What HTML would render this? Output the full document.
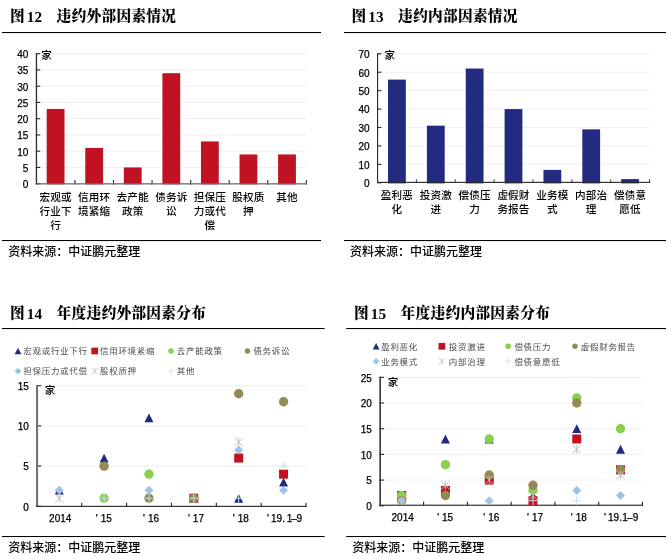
<!DOCTYPE html>
<html lang="zh-CN"><head><meta charset="utf-8"><title>违约因素</title>
<style>
html,body{margin:0;padding:0;background:#fff;}
body{width:669px;height:559px;overflow:hidden;}
svg{display:block}
.tt{font-family:"Liberation Serif","Noto Serif CJK SC",serif;font-weight:900;font-size:14.67px;fill:#000;letter-spacing:0.3px}
.tn{font-weight:bold;letter-spacing:0.25px;font-size:15.2px}
.num{font-family:"Liberation Sans","Noto Sans CJK SC",sans-serif;font-size:10px;fill:#000;stroke:#000;stroke-width:0.25px}
.cat{font-family:"Liberation Sans","Noto Sans CJK SC",sans-serif;font-size:10.6px;fill:#000;font-weight:500;letter-spacing:0.15px}
.src{font-family:"Liberation Sans","Noto Sans CJK SC",sans-serif;font-size:12px;fill:#000;font-weight:500}
.lg{font-family:"Liberation Sans","Noto Sans CJK SC",sans-serif;font-size:8.5px;fill:#4a4a4a;letter-spacing:0.7px}
</style></head><body>
<svg width="669" height="559" viewBox="0 0 669 559">
<rect width="669" height="559" fill="#fff"/>
<text class="tt" x="10.0" y="20.7">图<tspan class="tn" x="26.7" y="21.7">12</tspan><tspan x="56.6" y="20.7">违约外部因素情况</tspan></text>
<rect x="2" y="32" width="319" height="1.05" fill="#000"/>
<rect x="40.80" y="166.95" width="265.50" height="1" fill="#f0f0f0"/>
<rect x="40.80" y="150.70" width="265.50" height="1" fill="#f0f0f0"/>
<rect x="40.80" y="134.45" width="265.50" height="1" fill="#f0f0f0"/>
<rect x="40.80" y="118.20" width="265.50" height="1" fill="#f0f0f0"/>
<rect x="40.80" y="101.95" width="265.50" height="1" fill="#f0f0f0"/>
<rect x="40.80" y="85.70" width="265.50" height="1" fill="#f0f0f0"/>
<rect x="40.80" y="69.45" width="265.50" height="1" fill="#f0f0f0"/>
<rect x="40.80" y="53.20" width="265.50" height="1" fill="#f0f0f0"/>
<rect x="46.69" y="108.95" width="17.8" height="75.35" fill="#c11224"/>
<rect x="85.26" y="147.95" width="17.8" height="36.35" fill="#c11224"/>
<rect x="123.83" y="167.45" width="17.8" height="16.85" fill="#c11224"/>
<rect x="162.40" y="73.20" width="17.8" height="111.10" fill="#c11224"/>
<rect x="200.97" y="141.45" width="17.8" height="42.85" fill="#c11224"/>
<rect x="239.54" y="154.45" width="17.8" height="29.85" fill="#c11224"/>
<rect x="278.11" y="154.45" width="17.8" height="29.85" fill="#c11224"/>
<rect x="35.80" y="183.15" width="4.50" height="1.1" fill="#2a2a2a"/>
<text class="num" text-anchor="end" x="28.299999999999997" y="188.00">0</text>
<rect x="35.80" y="166.90" width="4.50" height="1.1" fill="#2a2a2a"/>
<text class="num" text-anchor="end" x="28.299999999999997" y="171.75">5</text>
<rect x="35.80" y="150.65" width="4.50" height="1.1" fill="#2a2a2a"/>
<text class="num" text-anchor="end" x="28.299999999999997" y="155.50">10</text>
<rect x="35.80" y="134.40" width="4.50" height="1.1" fill="#2a2a2a"/>
<text class="num" text-anchor="end" x="28.299999999999997" y="139.25">15</text>
<rect x="35.80" y="118.15" width="4.50" height="1.1" fill="#2a2a2a"/>
<text class="num" text-anchor="end" x="28.299999999999997" y="123.00">20</text>
<rect x="35.80" y="101.90" width="4.50" height="1.1" fill="#2a2a2a"/>
<text class="num" text-anchor="end" x="28.299999999999997" y="106.75">25</text>
<rect x="35.80" y="85.65" width="4.50" height="1.1" fill="#2a2a2a"/>
<text class="num" text-anchor="end" x="28.299999999999997" y="90.50">30</text>
<rect x="35.80" y="69.40" width="4.50" height="1.1" fill="#2a2a2a"/>
<text class="num" text-anchor="end" x="28.299999999999997" y="74.25">35</text>
<rect x="35.80" y="53.15" width="4.50" height="1.1" fill="#2a2a2a"/>
<text class="num" text-anchor="end" x="28.299999999999997" y="58.00">40</text>
<rect x="74.37" y="180.00" width="1.1" height="4.60" fill="#2a2a2a"/>
<rect x="112.94" y="180.00" width="1.1" height="4.60" fill="#2a2a2a"/>
<rect x="151.51" y="180.00" width="1.1" height="4.60" fill="#2a2a2a"/>
<rect x="190.09" y="180.00" width="1.1" height="4.60" fill="#2a2a2a"/>
<rect x="228.66" y="180.00" width="1.1" height="4.60" fill="#2a2a2a"/>
<rect x="267.23" y="180.00" width="1.1" height="4.60" fill="#2a2a2a"/>
<rect x="305.80" y="180.00" width="1.1" height="4.60" fill="#2a2a2a"/>
<rect x="35.80" y="53.20" width="1.3" height="131.40" fill="#2a2a2a"/>
<rect x="35.80" y="183.00" width="271.10" height="1.6" fill="#6a6a6a" fill-opacity="0.8"/>
<text class="cat" x="41.3" y="58.800000000000004">家</text>
<text class="cat" text-anchor="middle" x="55.59" y="201.2">宏观或</text>
<text class="cat" text-anchor="middle" x="55.59" y="215.2">行业下</text>
<text class="cat" text-anchor="middle" x="55.59" y="229.2">行</text>
<text class="cat" text-anchor="middle" x="94.16" y="201.2">信用环</text>
<text class="cat" text-anchor="middle" x="94.16" y="215.2">境紧缩</text>
<text class="cat" text-anchor="middle" x="132.73" y="201.2">去产能</text>
<text class="cat" text-anchor="middle" x="132.73" y="215.2">政策</text>
<text class="cat" text-anchor="middle" x="171.30" y="201.2">债务诉</text>
<text class="cat" text-anchor="middle" x="171.30" y="215.2">讼</text>
<text class="cat" text-anchor="middle" x="209.87" y="201.2">担保压</text>
<text class="cat" text-anchor="middle" x="209.87" y="215.2">力或代</text>
<text class="cat" text-anchor="middle" x="209.87" y="229.2">偿</text>
<text class="cat" text-anchor="middle" x="248.44" y="201.2">股权质</text>
<text class="cat" text-anchor="middle" x="248.44" y="215.2">押</text>
<text class="cat" text-anchor="middle" x="287.01" y="201.2">其他</text>
<rect x="2" y="240" width="319" height="1.05" fill="#000"/>
<text class="src" x="8.3" y="255.5">资料来源：中证鹏元整理</text>
<text class="tt" x="351.5" y="20.7">图<tspan class="tn" x="368.2" y="21.7">13</tspan><tspan x="398.1" y="20.7">违约内部因素情况</tspan></text>
<rect x="344" y="32" width="322" height="1.05" fill="#000"/>
<rect x="382.00" y="163.87" width="267.50" height="1" fill="#f0f0f0"/>
<rect x="382.00" y="145.44" width="267.50" height="1" fill="#f0f0f0"/>
<rect x="382.00" y="127.01" width="267.50" height="1" fill="#f0f0f0"/>
<rect x="382.00" y="108.59" width="267.50" height="1" fill="#f0f0f0"/>
<rect x="382.00" y="90.16" width="267.50" height="1" fill="#f0f0f0"/>
<rect x="382.00" y="71.73" width="267.50" height="1" fill="#f0f0f0"/>
<rect x="382.00" y="53.30" width="267.50" height="1" fill="#f0f0f0"/>
<rect x="388.03" y="79.60" width="17.8" height="103.80" fill="#232b80"/>
<rect x="426.89" y="125.67" width="17.8" height="57.73" fill="#232b80"/>
<rect x="465.74" y="68.54" width="17.8" height="114.86" fill="#232b80"/>
<rect x="504.60" y="109.09" width="17.8" height="74.31" fill="#232b80"/>
<rect x="543.46" y="169.90" width="17.8" height="13.50" fill="#232b80"/>
<rect x="582.31" y="129.36" width="17.8" height="54.04" fill="#232b80"/>
<rect x="621.17" y="179.11" width="17.8" height="4.29" fill="#232b80"/>
<rect x="377.00" y="182.25" width="4.35" height="1.1" fill="#2a2a2a"/>
<text class="num" text-anchor="end" x="369.5" y="187.10">0</text>
<rect x="377.00" y="163.82" width="4.35" height="1.1" fill="#2a2a2a"/>
<text class="num" text-anchor="end" x="369.5" y="168.67">10</text>
<rect x="377.00" y="145.39" width="4.35" height="1.1" fill="#2a2a2a"/>
<text class="num" text-anchor="end" x="369.5" y="150.24">20</text>
<rect x="377.00" y="126.96" width="4.35" height="1.1" fill="#2a2a2a"/>
<text class="num" text-anchor="end" x="369.5" y="131.81">30</text>
<rect x="377.00" y="108.54" width="4.35" height="1.1" fill="#2a2a2a"/>
<text class="num" text-anchor="end" x="369.5" y="113.39">40</text>
<rect x="377.00" y="90.11" width="4.35" height="1.1" fill="#2a2a2a"/>
<text class="num" text-anchor="end" x="369.5" y="94.96">50</text>
<rect x="377.00" y="71.68" width="4.35" height="1.1" fill="#2a2a2a"/>
<text class="num" text-anchor="end" x="369.5" y="76.53">60</text>
<rect x="377.00" y="53.25" width="4.35" height="1.1" fill="#2a2a2a"/>
<text class="num" text-anchor="end" x="369.5" y="58.10">70</text>
<rect x="415.86" y="179.30" width="1.1" height="3.65" fill="#555"/>
<rect x="454.71" y="179.30" width="1.1" height="3.65" fill="#555"/>
<rect x="493.57" y="179.30" width="1.1" height="3.65" fill="#555"/>
<rect x="532.43" y="179.30" width="1.1" height="3.65" fill="#555"/>
<rect x="571.29" y="179.30" width="1.1" height="3.65" fill="#555"/>
<rect x="610.14" y="179.30" width="1.1" height="3.65" fill="#555"/>
<rect x="649.00" y="179.30" width="1.1" height="3.65" fill="#555"/>
<rect x="377.00" y="53.30" width="1.15" height="129.65" fill="#2a2a2a"/>
<rect x="377.00" y="181.80" width="273.10" height="1.15" fill="#2a2a2a" fill-opacity="1"/>
<text class="cat" x="384.5" y="58.9">家</text>
<text class="cat" text-anchor="middle" x="396.93" y="199.2">盈利恶</text>
<text class="cat" text-anchor="middle" x="396.93" y="213.2">化</text>
<text class="cat" text-anchor="middle" x="435.79" y="199.2">投资激</text>
<text class="cat" text-anchor="middle" x="435.79" y="213.2">进</text>
<text class="cat" text-anchor="middle" x="474.64" y="199.2">偿债压</text>
<text class="cat" text-anchor="middle" x="474.64" y="213.2">力</text>
<text class="cat" text-anchor="middle" x="513.50" y="199.2">虚假财</text>
<text class="cat" text-anchor="middle" x="513.50" y="213.2">务报告</text>
<text class="cat" text-anchor="middle" x="552.36" y="199.2">业务模</text>
<text class="cat" text-anchor="middle" x="552.36" y="213.2">式</text>
<text class="cat" text-anchor="middle" x="591.21" y="199.2">内部治</text>
<text class="cat" text-anchor="middle" x="591.21" y="213.2">理</text>
<text class="cat" text-anchor="middle" x="630.07" y="199.2">偿债意</text>
<text class="cat" text-anchor="middle" x="630.07" y="213.2">愿低</text>
<rect x="344" y="240" width="322" height="1.05" fill="#000"/>
<text class="src" x="350" y="255.5">资料来源：中证鹏元整理</text>
<text class="tt" x="10.0" y="317.7">图<tspan class="tn" x="26.7" y="318.7">14</tspan><tspan x="56.6" y="317.7">年度违约外部因素分布</tspan></text>
<rect x="2" y="328" width="322.6" height="1.05" fill="#000"/>
<path d="M14.62 354.30L18.00 347.70L21.38 354.30Z" fill="#1f2a80"/>
<text class="lg" x="23.3" y="354.2">宏观或行业下行</text>
<rect x="91.33" y="347.62" width="6.75" height="6.75" fill="#c1121f"/>
<text class="lg" x="100" y="354.2">信用环境紧缩</text>
<circle cx="171.00" cy="351.00" r="2.73" fill="#8ccf4d"/>
<text class="lg" x="176.8" y="354.2">去产能政策</text>
<circle cx="247.50" cy="351.00" r="2.73" fill="#948a54"/>
<text class="lg" x="253.4" y="354.2">债务诉讼</text>
<path d="M14.62 371.20L18.00 367.82L21.38 371.20L18.00 374.57Z" fill="#9dc3e6"/>
<text class="lg" x="23.3" y="374.4">担保压力或代偿</text>
<path d="M91.48 367.97L97.92 374.43M91.48 374.43L97.92 367.97M94.70 367.97L94.70 374.43" stroke="#bfbfbf" stroke-width="0.75" fill="none"/>
<text class="lg" x="100" y="374.4">股权质押</text>
<path d="M167.78 371.20L174.22 371.20M171.00 367.97L171.00 374.43" stroke="#c9dcf2" stroke-width="0.75" fill="none"/>
<text class="lg" x="176.8" y="374.4">其他</text>
<rect x="41.30" y="465.60" width="264.70" height="1" fill="#f0f0f0"/>
<rect x="41.30" y="425.40" width="264.70" height="1" fill="#f0f0f0"/>
<rect x="41.30" y="385.20" width="264.70" height="1" fill="#f0f0f0"/>
<rect x="36.00" y="505.75" width="5.30" height="1.1" fill="#2a2a2a"/>
<text class="num" text-anchor="end" x="28.799999999999997" y="510.60">0</text>
<rect x="36.00" y="465.55" width="5.30" height="1.1" fill="#2a2a2a"/>
<text class="num" text-anchor="end" x="28.799999999999997" y="470.40">5</text>
<rect x="36.00" y="425.35" width="5.30" height="1.1" fill="#2a2a2a"/>
<text class="num" text-anchor="end" x="28.799999999999997" y="430.20">10</text>
<rect x="36.00" y="385.15" width="5.30" height="1.1" fill="#2a2a2a"/>
<text class="num" text-anchor="end" x="28.799999999999997" y="390.00">15</text>
<rect x="81.17" y="502.80" width="1.1" height="4.15" fill="#2a2a2a"/>
<rect x="126.03" y="502.80" width="1.1" height="4.15" fill="#2a2a2a"/>
<rect x="170.90" y="502.80" width="1.1" height="4.15" fill="#2a2a2a"/>
<rect x="215.77" y="502.80" width="1.1" height="4.15" fill="#2a2a2a"/>
<rect x="260.63" y="502.80" width="1.1" height="4.15" fill="#2a2a2a"/>
<rect x="305.50" y="502.80" width="1.1" height="4.15" fill="#2a2a2a"/>
<rect x="36.00" y="385.20" width="2.1" height="121.75" fill="#737373"/>
<rect x="36.00" y="505.80" width="270.60" height="1.15" fill="#2a2a2a" fill-opacity="1"/>
<text class="cat" x="44.8" y="394.2">家</text>
<path d="M54.73 494.62L59.23 485.82L63.73 494.62Z" fill="#1f2a80"/>
<path d="M99.60 462.46L104.10 453.66L108.60 462.46Z" fill="#1f2a80"/>
<path d="M144.47 422.26L148.97 413.46L153.47 422.26Z" fill="#1f2a80"/>
<path d="M234.20 502.66L238.70 493.86L243.20 502.66Z" fill="#1f2a80"/>
<path d="M279.07 486.58L283.57 477.78L288.07 486.58Z" fill="#1f2a80"/>
<rect x="189.33" y="493.76" width="9.00" height="9.00" fill="#c1121f"/>
<rect x="234.20" y="453.56" width="9.00" height="9.00" fill="#c1121f"/>
<rect x="279.07" y="469.64" width="9.00" height="9.00" fill="#c1121f"/>
<circle cx="104.10" cy="498.26" r="4.70" fill="#8ccf4d"/>
<circle cx="148.97" cy="474.14" r="4.70" fill="#8ccf4d"/>
<circle cx="104.10" cy="466.10" r="4.70" fill="#948a54"/>
<circle cx="148.97" cy="498.26" r="4.70" fill="#948a54"/>
<circle cx="193.83" cy="498.26" r="4.70" fill="#948a54"/>
<circle cx="238.70" cy="393.74" r="4.70" fill="#948a54"/>
<circle cx="283.57" cy="401.78" r="4.70" fill="#948a54"/>
<path d="M54.73 490.22L59.23 485.72L63.73 490.22L59.23 494.72Z" fill="#9dc3e6"/>
<path d="M144.47 490.22L148.97 485.72L153.47 490.22L148.97 494.72Z" fill="#9dc3e6"/>
<path d="M234.20 450.02L238.70 445.52L243.20 450.02L238.70 454.52Z" fill="#9dc3e6"/>
<path d="M279.07 490.22L283.57 485.72L288.07 490.22L283.57 494.72Z" fill="#9dc3e6"/>
<path d="M54.93 493.96L63.53 502.56M54.93 502.56L63.53 493.96M59.23 493.96L59.23 502.56" stroke="#bfbfbf" stroke-width="1.00" fill="none"/>
<path d="M234.40 437.68L243.00 446.28M234.40 446.28L243.00 437.68M238.70 437.68L238.70 446.28" stroke="#bfbfbf" stroke-width="1.00" fill="none"/>
<path d="M99.80 498.26L108.40 498.26M104.10 493.96L104.10 502.56" stroke="#c9dcf2" stroke-width="1.00" fill="none"/>
<path d="M144.67 498.26L153.27 498.26M148.97 493.96L148.97 502.56" stroke="#c9dcf2" stroke-width="1.00" fill="none"/>
<path d="M189.53 498.26L198.13 498.26M193.83 493.96L193.83 502.56" stroke="#c9dcf2" stroke-width="1.00" fill="none"/>
<path d="M234.40 498.26L243.00 498.26M238.70 493.96L238.70 502.56" stroke="#c9dcf2" stroke-width="1.00" fill="none"/>
<path d="M279.27 466.10L287.87 466.10M283.57 461.80L283.57 470.40" stroke="#c9dcf2" stroke-width="1.00" fill="none"/>
<text class="num" text-anchor="middle" x="60.23" y="522.3">2014</text>
<text class="num" x="95.80" y="522.3"><tspan>'</tspan><tspan dx="3">15</tspan></text>
<text class="num" x="143.07" y="522.3"><tspan>'</tspan><tspan dx="3">16</tspan></text>
<text class="num" x="187.93" y="522.3"><tspan>'</tspan><tspan dx="3">17</tspan></text>
<text class="num" x="232.80" y="522.3"><tspan>'</tspan><tspan dx="3">18</tspan></text>
<text class="num" x="266.97" y="522.3"><tspan>'</tspan><tspan x="271.07">19.</tspan><tspan x="286.77">1</tspan><tspan x="291.27">–</tspan><tspan x="296.57">9</tspan></text>
<rect x="2" y="536" width="322.6" height="1.05" fill="#000"/>
<text class="src" x="8.2" y="551.5">资料来源：中证鹏元整理</text>
<text class="tt" x="354.0" y="317.7">图<tspan class="tn" x="370.7" y="318.7">15</tspan><tspan x="400.6" y="317.7">年度违约内部因素分布</tspan></text>
<rect x="346.2" y="328" width="319.8" height="1.05" fill="#000"/>
<path d="M372.73 349.60L376.10 343.00L379.48 349.60Z" fill="#1f2a80"/>
<text class="lg" x="381.2" y="349.5">盈利恶化</text>
<rect x="438.52" y="342.93" width="6.75" height="6.75" fill="#c1121f"/>
<text class="lg" x="448.8" y="349.5">投资激进</text>
<circle cx="508.20" cy="346.30" r="2.73" fill="#8ccf4d"/>
<text class="lg" x="514.4" y="349.5">偿债压力</text>
<circle cx="575.00" cy="346.30" r="2.73" fill="#948a54"/>
<text class="lg" x="580.8" y="349.5">虚假财务报告</text>
<path d="M372.73 361.30L376.10 357.93L379.48 361.30L376.10 364.68Z" fill="#9dc3e6"/>
<text class="lg" x="381.2" y="364.5">业务模式</text>
<path d="M438.67 358.07L445.12 364.53M438.67 364.53L445.12 358.07M441.90 358.07L441.90 364.53" stroke="#bfbfbf" stroke-width="0.75" fill="none"/>
<text class="lg" x="448.8" y="364.5">内部治理</text>
<path d="M504.97 361.30L511.43 361.30M508.20 358.07L508.20 364.53" stroke="#c9dcf2" stroke-width="0.75" fill="none"/>
<text class="lg" x="514.4" y="364.5">偿债意愿低</text>
<rect x="384.30" y="479.60" width="258.10" height="1" fill="#f0f0f0"/>
<rect x="384.30" y="453.90" width="258.10" height="1" fill="#f0f0f0"/>
<rect x="384.30" y="428.20" width="258.10" height="1" fill="#f0f0f0"/>
<rect x="384.30" y="402.50" width="258.10" height="1" fill="#f0f0f0"/>
<rect x="384.30" y="376.80" width="258.10" height="1" fill="#f0f0f0"/>
<rect x="379.40" y="505.25" width="4.70" height="1.1" fill="#2a2a2a"/>
<text class="num" text-anchor="end" x="371.8" y="510.10">0</text>
<rect x="379.40" y="479.55" width="4.70" height="1.1" fill="#2a2a2a"/>
<text class="num" text-anchor="end" x="371.8" y="484.40">5</text>
<rect x="379.40" y="453.85" width="4.70" height="1.1" fill="#2a2a2a"/>
<text class="num" text-anchor="end" x="371.8" y="458.70">10</text>
<rect x="379.40" y="428.15" width="4.70" height="1.1" fill="#2a2a2a"/>
<text class="num" text-anchor="end" x="371.8" y="433.00">15</text>
<rect x="379.40" y="402.45" width="4.70" height="1.1" fill="#2a2a2a"/>
<text class="num" text-anchor="end" x="371.8" y="407.30">20</text>
<rect x="379.40" y="376.75" width="4.70" height="1.1" fill="#2a2a2a"/>
<text class="num" text-anchor="end" x="371.8" y="381.60">25</text>
<rect x="423.07" y="501.65" width="1.1" height="4.15" fill="#2a2a2a"/>
<rect x="466.83" y="501.65" width="1.1" height="4.15" fill="#2a2a2a"/>
<rect x="510.60" y="501.65" width="1.1" height="4.15" fill="#2a2a2a"/>
<rect x="554.37" y="501.65" width="1.1" height="4.15" fill="#2a2a2a"/>
<rect x="598.13" y="501.65" width="1.1" height="4.15" fill="#2a2a2a"/>
<rect x="641.90" y="501.65" width="1.1" height="4.15" fill="#2a2a2a"/>
<rect x="379.40" y="376.80" width="1.5" height="129.00" fill="#2a2a2a"/>
<rect x="379.40" y="504.65" width="263.60" height="1.15" fill="#2a2a2a" fill-opacity="1"/>
<text class="cat" x="387.8" y="385.8">家</text>
<path d="M397.18 499.92L401.68 491.12L406.18 499.92Z" fill="#1f2a80"/>
<path d="M440.95 443.38L445.45 434.58L449.95 443.38Z" fill="#1f2a80"/>
<path d="M484.72 443.38L489.22 434.58L493.72 443.38Z" fill="#1f2a80"/>
<path d="M528.48 499.92L532.98 491.12L537.48 499.92Z" fill="#1f2a80"/>
<path d="M572.25 433.10L576.75 424.30L581.25 433.10Z" fill="#1f2a80"/>
<path d="M616.02 453.66L620.52 444.86L625.02 453.66Z" fill="#1f2a80"/>
<rect x="397.18" y="491.02" width="9.00" height="9.00" fill="#c1121f"/>
<rect x="440.95" y="485.88" width="9.00" height="9.00" fill="#c1121f"/>
<rect x="484.72" y="475.60" width="9.00" height="9.00" fill="#c1121f"/>
<rect x="528.48" y="496.16" width="9.00" height="9.00" fill="#c1121f"/>
<rect x="572.25" y="434.48" width="9.00" height="9.00" fill="#c1121f"/>
<rect x="616.02" y="465.32" width="9.00" height="9.00" fill="#c1121f"/>
<circle cx="401.68" cy="495.52" r="4.70" fill="#8ccf4d"/>
<circle cx="445.45" cy="464.68" r="4.70" fill="#8ccf4d"/>
<circle cx="489.22" cy="438.98" r="4.70" fill="#8ccf4d"/>
<circle cx="532.98" cy="490.38" r="4.70" fill="#8ccf4d"/>
<circle cx="576.75" cy="397.86" r="4.70" fill="#8ccf4d"/>
<circle cx="620.52" cy="428.70" r="4.70" fill="#8ccf4d"/>
<circle cx="401.68" cy="500.66" r="4.70" fill="#948a54"/>
<circle cx="445.45" cy="495.52" r="4.70" fill="#948a54"/>
<circle cx="489.22" cy="474.96" r="4.70" fill="#948a54"/>
<circle cx="532.98" cy="485.24" r="4.70" fill="#948a54"/>
<circle cx="576.75" cy="403.00" r="4.70" fill="#948a54"/>
<circle cx="620.52" cy="469.82" r="4.70" fill="#948a54"/>
<path d="M397.18 500.66L401.68 496.16L406.18 500.66L401.68 505.16Z" fill="#9dc3e6"/>
<path d="M484.72 500.66L489.22 496.16L493.72 500.66L489.22 505.16Z" fill="#9dc3e6"/>
<path d="M572.25 490.38L576.75 485.88L581.25 490.38L576.75 494.88Z" fill="#9dc3e6"/>
<path d="M616.02 495.52L620.52 491.02L625.02 495.52L620.52 500.02Z" fill="#9dc3e6"/>
<path d="M397.38 496.36L405.98 504.96M397.38 504.96L405.98 496.36M401.68 496.36L401.68 504.96" stroke="#bfbfbf" stroke-width="1.00" fill="none"/>
<path d="M441.15 480.94L449.75 489.54M441.15 489.54L449.75 480.94M445.45 480.94L445.45 489.54" stroke="#bfbfbf" stroke-width="1.00" fill="none"/>
<path d="M484.92 475.80L493.52 484.40M484.92 484.40L493.52 475.80M489.22 475.80L489.22 484.40" stroke="#bfbfbf" stroke-width="1.00" fill="none"/>
<path d="M528.68 491.22L537.28 499.82M528.68 499.82L537.28 491.22M532.98 491.22L532.98 499.82" stroke="#bfbfbf" stroke-width="1.00" fill="none"/>
<path d="M572.45 444.96L581.05 453.56M572.45 453.56L581.05 444.96M576.75 444.96L576.75 453.56" stroke="#bfbfbf" stroke-width="1.00" fill="none"/>
<path d="M616.22 470.66L624.82 479.26M616.22 479.26L624.82 470.66M620.52 470.66L620.52 479.26" stroke="#bfbfbf" stroke-width="1.00" fill="none"/>
<path d="M528.68 500.66L537.28 500.66M532.98 496.36L532.98 504.96" stroke="#c9dcf2" stroke-width="1.00" fill="none"/>
<path d="M572.45 500.66L581.05 500.66M576.75 496.36L576.75 504.96" stroke="#c9dcf2" stroke-width="1.00" fill="none"/>
<text class="num" text-anchor="middle" x="402.68" y="521.3">2014</text>
<text class="num" x="437.15" y="521.3"><tspan>'</tspan><tspan dx="3">15</tspan></text>
<text class="num" x="483.32" y="521.3"><tspan>'</tspan><tspan dx="3">16</tspan></text>
<text class="num" x="527.08" y="521.3"><tspan>'</tspan><tspan dx="3">17</tspan></text>
<text class="num" x="570.85" y="521.3"><tspan>'</tspan><tspan dx="3">18</tspan></text>
<text class="num" x="603.92" y="521.3"><tspan>'</tspan><tspan x="608.02">19.</tspan><tspan x="622.32">1</tspan><tspan x="626.92">–</tspan><tspan x="632.72">9</tspan></text>
<rect x="346.2" y="536" width="319.8" height="1.05" fill="#000"/>
<text class="src" x="352.3" y="551.5">资料来源：中证鹏元整理</text>
</svg>
</body></html>
